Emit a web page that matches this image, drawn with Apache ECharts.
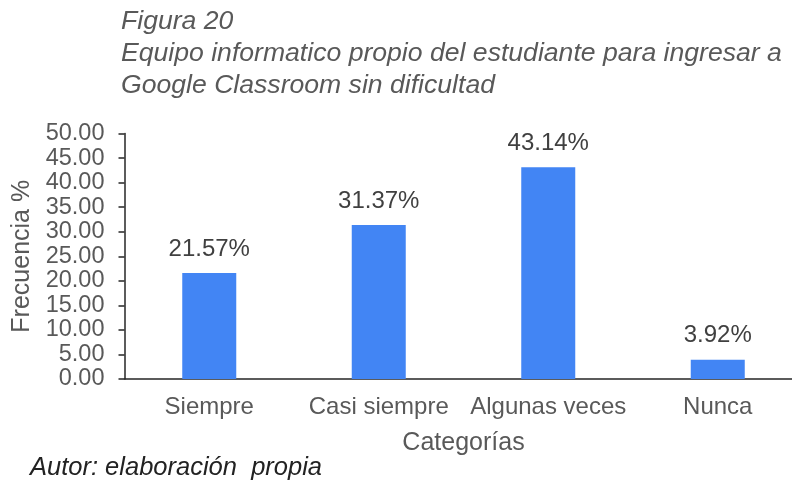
<!DOCTYPE html>
<html><head><meta charset="utf-8">
<script src="https://cdn.jsdelivr.net/npm/echarts@6/dist/echarts.min.js"></script>
<style>html,body{margin:0;padding:0;background:#fff;overflow:hidden;width:792px;height:485px}#c{width:812px;height:485px}</style>
</head><body><div id="c"></div>
<script>
const categories = ["Siempre", "Casi siempre", "Algunas veces", "Nunca"];
const values = [21.57, 31.37, 43.14, 3.92];
const titleLines = ["Figura 20", "Equipo informatico propio del estudiante para ingresar a", "Google Classroom sin dificultad"];
const footer = "Autor: elaboración  propia";
const yName = "Frecuencia %";
const xName = "Categorías";

const F = "Liberation Sans, Arial, sans-serif";
const gray = "#595959";
const chart = echarts.init(document.getElementById('c'), null, {renderer: 'canvas'});
chart.setOption({
  animation: false,
  backgroundColor: '#fff',
  graphic: [
    {type: 'text', left: 121, top: 6, style: {text: titleLines.join('\n'), font: 'italic 26.6px ' + F, fill: gray, lineHeight: 32}},
    {type: 'text', left: 30, top: 455, style: {text: footer, font: 'italic 25.5px ' + F, fill: '#222'}}
  ],
  grid: {left: 124.5, top: 133.5, bottom: 106, right: 9.5, containLabel: false},
  xAxis: {
    type: 'category', data: categories,
    name: xName, nameLocation: 'middle', nameGap: 52,
    nameTextStyle: {fontFamily: F, fontSize: 25, color: gray},
    axisLine: {lineStyle: {color: '#262626', width: 1.5}},
    axisTick: {show: false},
    axisLabel: {fontFamily: F, fontSize: 24, color: gray, margin: 16, interval: 0}
  },
  yAxis: {
    type: 'value', min: 0, max: 50, interval: 5,
    name: yName, nameLocation: 'middle', nameGap: 88,
    nameTextStyle: {fontFamily: F, fontSize: 25, color: gray},
    axisLine: {show: true, lineStyle: {color: '#262626', width: 1.5}},
    axisTick: {show: true, length: 6, lineStyle: {color: '#262626', width: 1.5}},
    splitLine: {show: false},
    axisLabel: {fontFamily: F, fontSize: 23.5, color: gray, margin: 20, formatter: v => v.toFixed(2)}
  },
  series: [{
    type: 'bar', data: values, barWidth: 54,
    itemStyle: {color: '#4285F4'},
    label: {show: true, position: 'top', distance: 12, fontFamily: F, fontSize: 24, color: '#404040', formatter: p => p.value.toFixed(2) + '%'}
  }]
});
</script></body></html>
